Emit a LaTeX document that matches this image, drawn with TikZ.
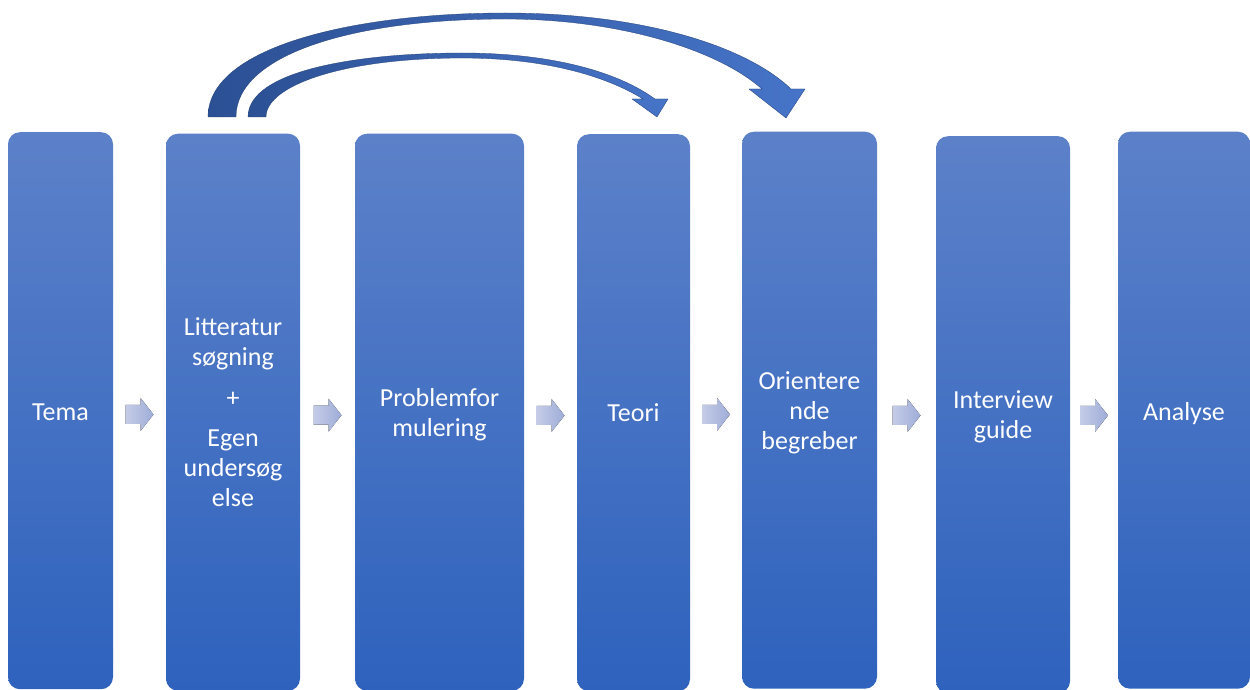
\documentclass[tikz,border=0pt]{standalone}
\usepackage{fontspec}
\setmainfont{Carlito}
\usetikzlibrary{calc}
\definecolor{boxtop}{RGB}{92,129,201}
\definecolor{boxbot}{RGB}{46,98,189}
\definecolor{chevl}{RGB}{196,204,231}
\definecolor{chevr}{RGB}{158,172,215}
\definecolor{curvl}{RGB}{44,80,148}
\definecolor{curvr}{RGB}{70,116,200}
\tikzset{
  stage/.style={rounded corners=12pt, top color=boxtop, bottom color=boxbot,
    draw=none, text=white, align=center, font=\fontsize{26}{30}\selectfont,
    minimum height=557pt, inner sep=0pt, anchor=north, text depth=0pt},
  chevron/.pic={\fill[left color=chevl, right color=chevr]
    (-14,-9.5) -- (1,-9.5) -- (1,-16.5) -- (14,0) -- (1,16.5) -- (1,9.5) -- (-14,9.5) -- cycle;},
  bigarrow/.style={left color=curvl, right color=curvr, draw=curvl!80!black, line width=0.3pt}
}
\begin{document}
\begin{tikzpicture}[x=1pt,y=-1pt]
\useasboundingbox (0,0) rectangle (1250,690);
\clip (0,0) rectangle (1250,690);
\fill[white] (0,0) rectangle (1250,690);
% stages
\node[stage, minimum width=105pt] (tema) at (60.5,132) {\raisebox{-2pt}{Tema}};
\node[stage, minimum width=134pt] (lit) at (233,133.5) {Litteratur\\søgning\\[11pt]+\\[10pt]Egen\\undersøg\\else\rule[-6pt]{0pt}{1pt}};
\node[stage, minimum width=169pt] (prob) at (439.5,133.5) {Problemfor\\mulering\rule[-6pt]{0pt}{1pt}};
\node[stage, minimum width=113pt] (teori) at (633.5,134) {Teori};
\node[stage, minimum width=135pt] (orient) at (809.5,131.5) {Orientere\\nde\\begreber\rule[-6pt]{0pt}{1pt}};
\node[stage, minimum width=134pt] (interv) at (1003,136) {Interview\\guide\rule[-5pt]{0pt}{1pt}};
\node[stage, minimum width=132pt] (analyse) at (1184,131.5) {\raisebox{-2pt}{Analyse}};
% small block arrows
\path ($(tema.east)!0.5!(lit.west)$) ++(0,3) pic {chevron};
\path ($(lit.east)!0.5!(prob.west)$) ++(0,3) pic {chevron};
\path ($(prob.east)!0.5!(teori.west)$) ++(0,3) pic {chevron};
\path ($(teori.east)!0.5!(orient.west)$) ++(0,3) pic {chevron};
\path ($(orient.east)!0.5!(interv.west)$) ++(0,3) pic {chevron};
\path ($(interv.east)!0.5!(analyse.west)$) ++(0,3) pic {chevron};
% curved arrows
\coordinate (o1) at (208,117);
\coordinate (i1) at (248,117);
\path[bigarrow]
  (o1) .. controls (208,45) and (360,13) .. (505,13)
  .. controls (640,13) and (745,45) .. (791,89)
  -- (805,89) -- (786,118) -- (749,89) -- (762,89)
  .. controls (718,50) and (620,19) .. (505,19)
  .. controls (352,19) and (236,55) .. (236,117) -- cycle;
\path[bigarrow]
  (i1) .. controls (248,70) and (360,53) .. (462,53)
  .. controls (552,53) and (618,72) .. (655,99)
  -- (668,99) -- (657,117) -- (632,99) -- (643,99)
  .. controls (606,76) and (545,58) .. (462,58)
  .. controls (345,58) and (266,85) .. (266,117) -- cycle;
\end{tikzpicture}
\end{document}
